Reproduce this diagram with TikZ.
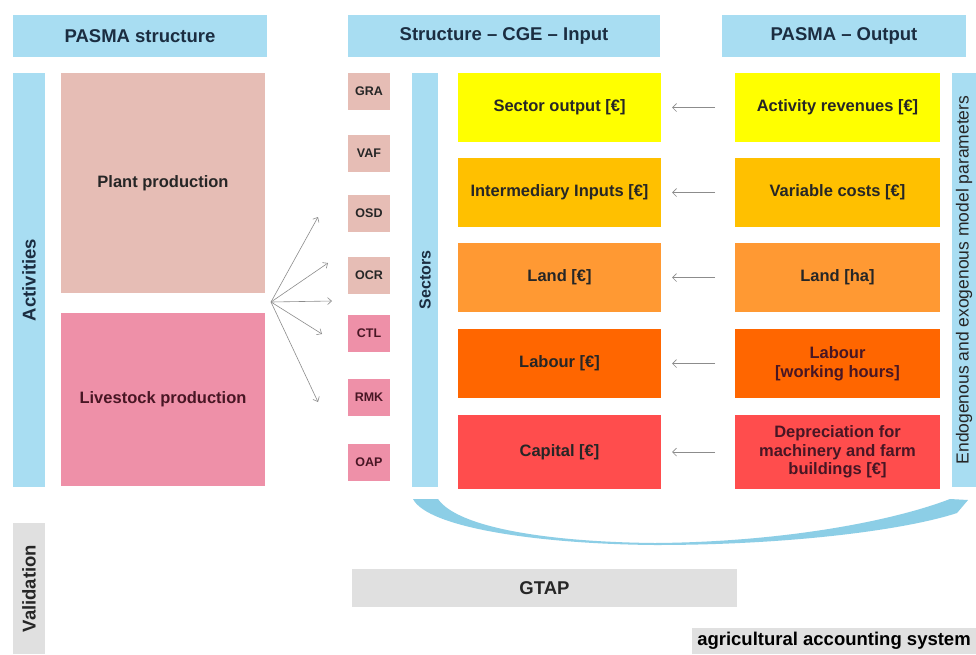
\documentclass[tikz,border=0pt]{standalone}
\usepackage{fontspec}
\setmainfont{Liberation Sans}
\usetikzlibrary{arrows.meta}
\definecolor{hdr}{RGB}{168,221,242}
\definecolor{plantc}{RGB}{230,189,181}
\definecolor{livec}{RGB}{238,144,168}
\definecolor{cA}{RGB}{255,255,0}
\definecolor{cB}{RGB}{255,192,0}
\definecolor{cC}{RGB}{255,153,51}
\definecolor{cD}{RGB}{255,102,0}
\definecolor{cE}{RGB}{255,77,77}
\definecolor{navy}{RGB}{27,45,65}
\definecolor{txt}{RGB}{38,38,38}
\definecolor{maroon}{RGB}{72,22,36}
\definecolor{arrc}{RGB}{140,140,140}
\definecolor{swc}{RGB}{140,206,230}
\definecolor{grayA}{RGB}{224,224,224}
\begin{document}
\begin{tikzpicture}[x=1pt,y=-1pt,
  base/.style={inner sep=0pt,outer sep=0pt,align=center,anchor=center,rectangle},
  hdrbox/.style={base,fill=hdr,minimum height=42pt,text=navy,
    font=\bfseries\fontsize{18.5}{22}\selectfont},
  vbar/.style={base,fill=hdr,rotate=90,minimum width=414pt,text=navy,
    font=\bfseries\fontsize{18.5}{22}\selectfont},
  lbl/.style={base,text=txt,font=\bfseries\fontsize{16.5}{18.6}\selectfont},
  bigbox/.style={lbl,minimum width=204pt},
  sm/.style={base,minimum width=42pt,minimum height=37pt,
    font=\bfseries\fontsize{12.5}{14}\selectfont},
  midbox/.style={lbl,minimum width=203pt},
  rgtbox/.style={lbl,minimum width=205pt},
  rowarrow/.style={draw=arrc,line width=0.7pt,shorten <=20pt,shorten >=11pt,
    -{Straight Barb[length=4pt,width=8pt]}},
  fanarrow/.style={draw=arrc,line width=0.6pt,
    -{Straight Barb[length=4pt,width=7pt]}}
]
\useasboundingbox (0,0) rectangle (976,654);
\fill[white] (0,0) rectangle (976,654);

% headers
\node[hdrbox,minimum width=254pt] (h1) at (140,36) {PASMA structure};
\node[hdrbox,minimum width=312pt] (h2) at (504,36) {Structure -- CGE -- Input};
\node[hdrbox,minimum width=244pt] (h3) at (844,36) {PASMA -- Output};

% left column
\node[vbar,minimum height=32pt] (act) at (29,280) {Activities};
\node[bigbox,fill=plantc,minimum height=220pt] (plant) at (163,183) {Plant production};
\node[bigbox,fill=livec,minimum height=173pt,text=maroon] (live) at (163,399.5) {Livestock production};

% small sector boxes
\node[sm,fill=plantc,text=txt] (gra) at (369,91.5) {GRA};
\node[sm,fill=plantc,text=txt] (vaf) at (369,153.5) {VAF};
\node[sm,fill=plantc,text=txt] (osd) at (369,213) {OSD};
\node[sm,fill=plantc,text=txt] (ocr) at (369,275) {OCR};
\node[sm,fill=livec,text=maroon] (ctl) at (369,333) {CTL};
\node[sm,fill=livec,text=maroon] (rmk) at (369,397) {RMK};
\node[sm,fill=livec,text=maroon] (oap) at (369,462.5) {OAP};

% sectors bar
\node[vbar,minimum height=26pt,font=\bfseries\fontsize{16}{19}\selectfont] (sec) at (425,280) {Sectors};

% middle column
\node[midbox,fill=cA,minimum height=69pt] (m1) at (559.5,107.5) {Sector output [€]};
\node[midbox,fill=cB,minimum height=69pt] (m2) at (559.5,192.5) {Intermediary Inputs [€]};
\node[midbox,fill=cC,minimum height=69pt] (m3) at (559.5,277.5) {Land [€]};
\node[midbox,fill=cD,minimum height=69pt] (m4) at (559.5,363.5) {Labour [€]};
\node[midbox,fill=cE,minimum height=74pt] (m5) at (559.5,452) {Capital [€]};

% right column
\node[rgtbox,fill=cA,minimum height=69pt] (r1) at (837.5,107.5) {Activity revenues [€]};
\node[rgtbox,fill=cB,minimum height=69pt] (r2) at (837.5,192.5) {Variable costs [€]};
\node[rgtbox,fill=cC,minimum height=69pt] (r3) at (837.5,277.5) {Land [ha]};
\node[rgtbox,fill=cD,minimum height=69pt,text=maroon] (r4) at (837.5,363.5) {Labour\\[0pt][working hours]};
\node[rgtbox,fill=cE,minimum height=74pt,text=maroon] (r5) at (837.5,452) {Depreciation for\\machinery and farm\\buildings [€]};

% endogenous bar
\node[vbar,minimum height=24pt,text=txt,font=\fontsize{17.5}{20}\selectfont] (endo) at (964,280) {Endogenous and exogenous model parameters};

% row arrows
\draw[rowarrow] (r1.west) -- (m1.east);
\draw[rowarrow] (r2.west) -- (m2.east);
\draw[rowarrow] (r3.west) -- (m3.east);
\draw[rowarrow] (r4.west) -- (m4.east);
\draw[rowarrow] (r5.west) -- (m5.east);

% fan arrows
\coordinate (fan) at (271,302);
\coordinate (f1) at (318,217);
\coordinate (f2) at (328,263);
\coordinate (f3) at (332,301);
\coordinate (f4) at (322,334);
\coordinate (f5) at (318,402);
\foreach \t in {f1,f2,f3,f4,f5} \draw[fanarrow] (fan) -- (\t);

% swoosh
\fill[swc] (413,499) .. controls (428,528) and (540,544) .. (655,545)
  .. controls (790,545) and (905,530) .. (957,513) -- (968,500) -- (950,499)
  .. controls (890,522) and (780,542) .. (655,543)
  .. controls (550,542) and (458,528) .. (438,499) -- cycle;

% bottom
\node[base,fill=grayA,rotate=90,minimum width=131pt,minimum height=32pt,text=txt,
  font=\bfseries\fontsize{18.5}{22}\selectfont] (val) at (29,588.5) {Validation};
\node[base,fill=grayA,minimum width=385pt,minimum height=38pt,text=txt,
  font=\bfseries\fontsize{18.5}{22}\selectfont] (gtap) at (544.5,588) {GTAP};
\node[base,fill=grayA,minimum width=284pt,minimum height=26pt,text=black,
  font=\bfseries\fontsize{18.5}{22}\selectfont] (agr) at (834,641) {agricultural accounting system};
\end{tikzpicture}
\end{document}
